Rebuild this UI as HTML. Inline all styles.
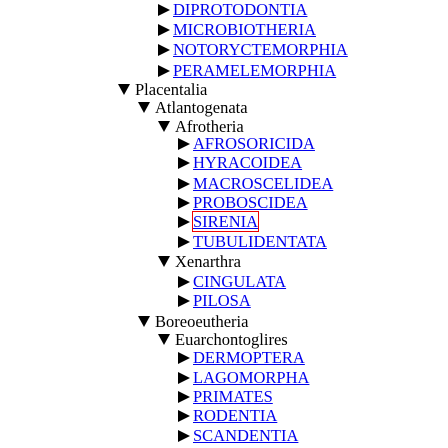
<!DOCTYPE html>
<html><head><style>
body{margin:0;width:448px;height:448px;background:#fff;position:relative;overflow:hidden;font-family:"Liberation Serif",serif;font-size:16.5px;color:#000}
.l{position:absolute;line-height:18px;white-space:nowrap}
.r{display:inline-block;width:0;height:0;border-top:6px solid transparent;border-bottom:6px solid transparent;border-left:12px solid #000;margin-right:3px;vertical-align:-1px}
.d{display:inline-block;width:0;height:0;border-left:6px solid transparent;border-right:6px solid transparent;border-top:11px solid #000;margin-right:5px;vertical-align:0px}
a{color:#00e;text-decoration:underline}
.box{outline:1.5px solid #e00}
</style></head><body>
<div class="l" style="left:158px;top:1px"><span class="r"></span><a>DIPROTODONTIA</a></div>
<div class="l" style="left:158px;top:21px"><span class="r"></span><a>MICROBIOTHERIA</a></div>
<div class="l" style="left:158px;top:41px"><span class="r"></span><a>NOTORYCTEMORPHIA</a></div>
<div class="l" style="left:158px;top:62px"><span class="r"></span><a>PERAMELEMORPHIA</a></div>
<div class="l" style="left:118px;top:81px"><span class="d"></span>Placentalia</div>
<div class="l" style="left:138px;top:99px"><span class="d"></span>Atlantogenata</div>
<div class="l" style="left:158px;top:118px"><span class="d"></span>Afrotheria</div>
<div class="l" style="left:178px;top:135px"><span class="r"></span><a>AFROSORICIDA</a></div>
<div class="l" style="left:178px;top:154px"><span class="r"></span><a>HYRACOIDEA</a></div>
<div class="l" style="left:178px;top:175px"><span class="r"></span><a>MACROSCELIDEA</a></div>
<div class="l" style="left:178px;top:194px"><span class="r"></span><a>PROBOSCIDEA</a></div>
<div class="l" style="left:178px;top:213px"><span class="r"></span><a class="box">SIRENIA</a></div>
<div class="l" style="left:178px;top:233px"><span class="r"></span><a>TUBULIDENTATA</a></div>
<div class="l" style="left:158px;top:253px"><span class="d"></span>Xenarthra</div>
<div class="l" style="left:178px;top:273px"><span class="r"></span><a>CINGULATA</a></div>
<div class="l" style="left:178px;top:292px"><span class="r"></span><a>PILOSA</a></div>
<div class="l" style="left:138px;top:313px"><span class="d"></span>Boreoeutheria</div>
<div class="l" style="left:158px;top:331px"><span class="d"></span>Euarchontoglires</div>
<div class="l" style="left:178px;top:349px"><span class="r"></span><a>DERMOPTERA</a></div>
<div class="l" style="left:178px;top:369px"><span class="r"></span><a>LAGOMORPHA</a></div>
<div class="l" style="left:178px;top:388px"><span class="r"></span><a>PRIMATES</a></div>
<div class="l" style="left:178px;top:407px"><span class="r"></span><a>RODENTIA</a></div>
<div class="l" style="left:178px;top:427px"><span class="r"></span><a>SCANDENTIA</a></div>
</body></html>
